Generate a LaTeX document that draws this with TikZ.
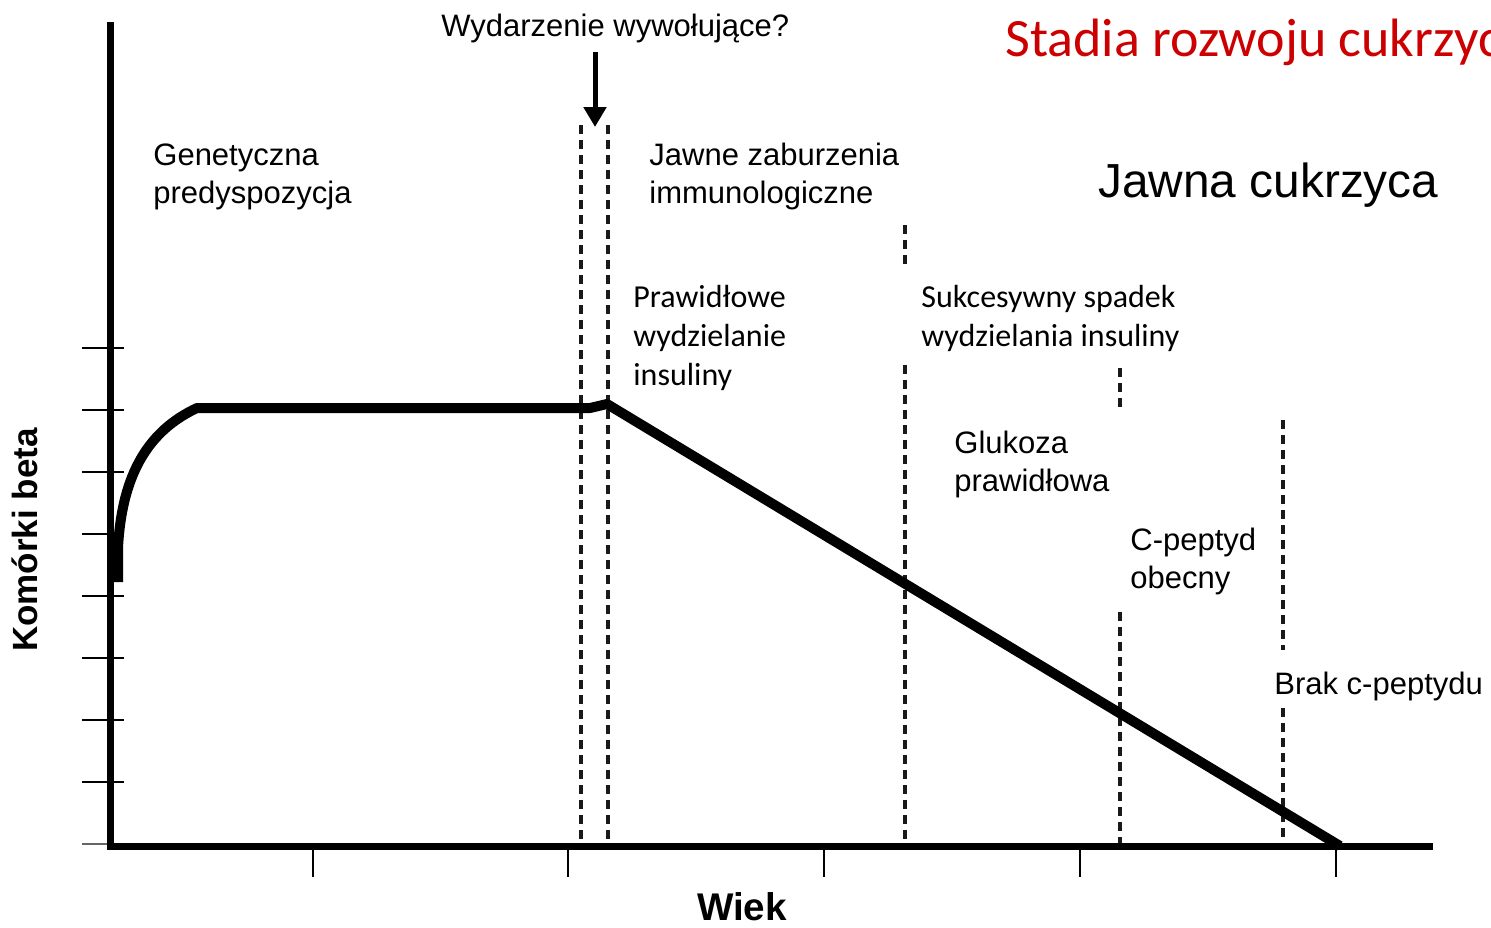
\documentclass[tikz,border=0pt]{standalone}
\usepackage{fontspec}
\setmainfont{Liberation Sans}
\newfontfamily\gillfont{Carlito}
\usetikzlibrary{arrows.meta}
\definecolor{tytul}{HTML}{CC0000}
\tikzset{
  etykieta/.style={anchor=north west,inner sep=0pt,align=left,font=\fontsize{15.5pt}{19pt}\selectfont},
  etykietag/.style={anchor=north west,inner sep=0pt,align=left,font=\gillfont\fontsize{16pt}{19.5pt}\selectfont},
  granica/.style={line width=1.8pt,dash pattern=on 4.5pt off 3pt,color=black!90},
  podzialka/.style={line width=1pt}
}
\begin{document}
\begin{tikzpicture}[x=0.5pt,y=-0.5pt]
   \clip (0,0) rectangle (1491,927);
   \fill[white] (0,0) rectangle (1491,927);
   \foreach \y in {348,410,...,782} \draw[podzialka] (82,\y) -- (124,\y);
   \draw[podzialka,color=black!60] (82,844) -- (110,844);
   \foreach \x in {313,568,824,1080,1336} \draw[podzialka] (\x,846) -- (\x,877);
   \draw[granica] (581,125) -- (581,846);
   \draw[granica] (608,125) -- (608,846);
   \draw[granica] (905,225) -- (905,265) (905,365) -- (905,846);
   \draw[granica] (1120,368) -- (1120,410) (1120,612) -- (1120,846);
   \draw[granica] (1283,420) -- (1283,650) (1283,708) -- (1283,846);
   \draw[line width=3.5pt] (110,22) -- (110,846) -- (1433,846);
   \draw[line width=5pt,line join=round]
   (118,582) -- (118,548) .. controls (122,472) and (150,430) .. (197,408)
   -- (590,408) -- (607,404) -- (1340,846);
   \coordinate (wyzw) at (595,52);
   \coordinate (cel) at (595,127);
   \draw[line width=2.5pt,-{Triangle[width=11pt,length=10pt]}] (wyzw) -- (cel);
   \node[etykieta] (wydarzenie) at (441,14) {Wydarzenie wywołujące?};
   \node[anchor=north west,inner sep=0pt,color=tytul,font=\gillfont\fontsize{27pt}{30pt}\selectfont] (tytul) at (1005,19) {Stadia rozwoju cukrzycy};
   \node[etykieta] (genet) at (153,143) {Genetyczna\\predyspozycja};
   \node[etykieta] (immuno) at (649,143) {Jawne zaburzenia\\immunologiczne};
   \node[anchor=north west,inner sep=0pt,font=\fontsize{23.9pt}{28pt}\selectfont] (jawna) at (1098,162) {Jawna cukrzyca};
   \node[etykietag] (prawid) at (633,285) {Prawidłowe\\wydzielanie\\insuliny};
   \node[etykietag] (spadek) at (921,285) {Sukcesywny spadek\\wydzielania insuliny};
   \node[etykieta] (glukoza) at (954,431) {Glukoza\\prawidłowa};
   \node[etykieta] (peptyd) at (1130,528) {C-peptyd\\obecny};
   \node[etykieta] (brak) at (1274,672) {Brak c-peptydu};
   \node[font=\bfseries\fontsize{17.5pt}{20pt}\selectfont,rotate=90] (komorki) at (25,540) {Komórki beta};
   \node[inner sep=0pt,font=\bfseries\fontsize{19.3pt}{22pt}\selectfont] (wiek) at (742,907) {Wiek};
\end{tikzpicture}
\end{document}
